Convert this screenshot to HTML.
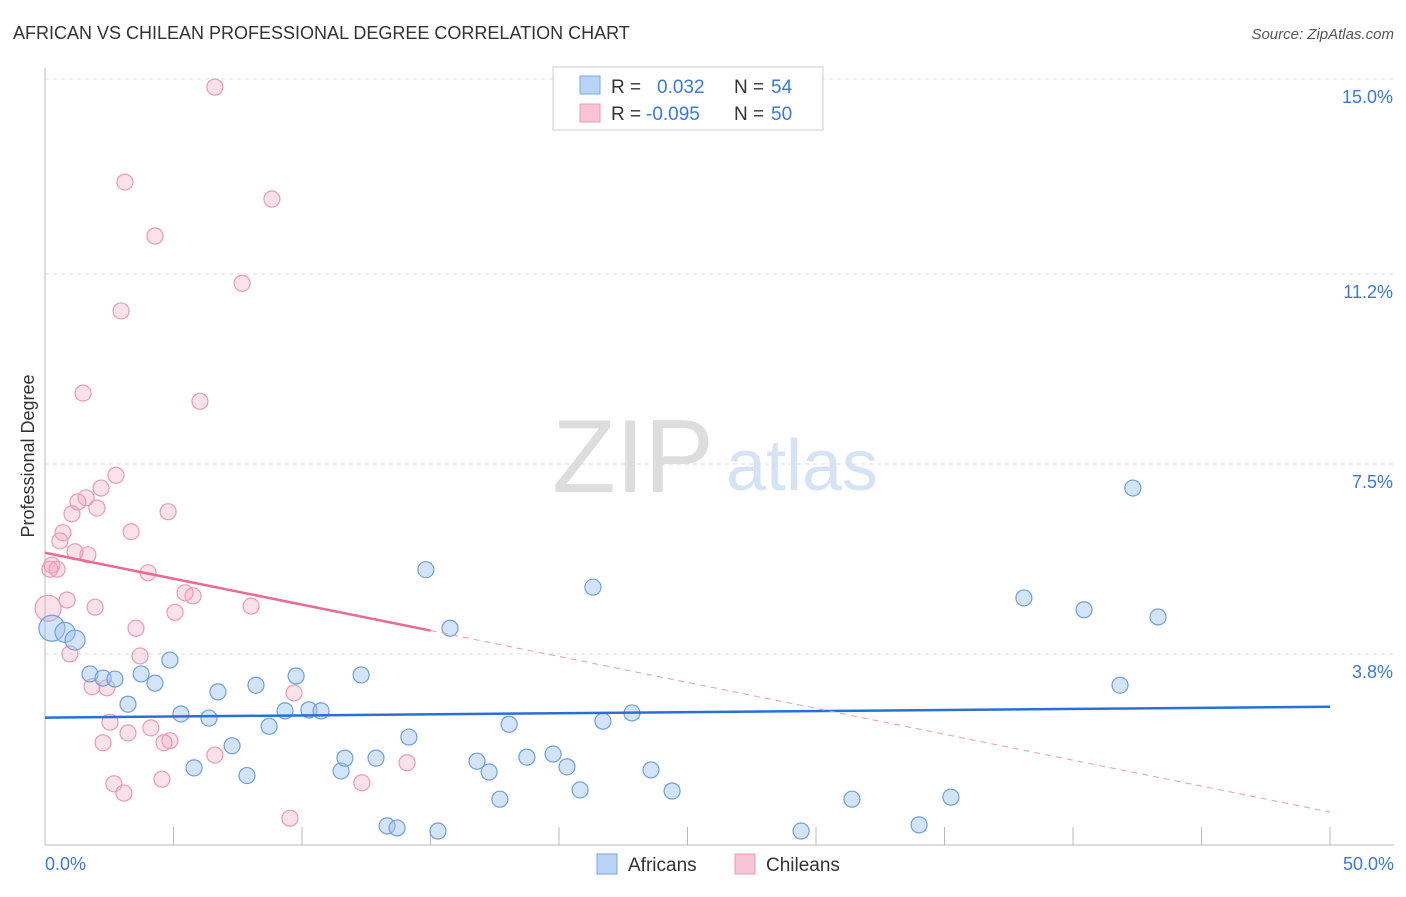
<!DOCTYPE html>
<html><head><meta charset="utf-8"><style>
body{margin:0;background:#fff;font-family:"Liberation Sans",sans-serif;}
svg text{font-family:"Liberation Sans",sans-serif;}
</style></head><body>
<svg id="chart" width="1406" height="892" xmlns="http://www.w3.org/2000/svg">
<text x="13" y="39" font-size="18" fill="#333">AFRICAN VS CHILEAN PROFESSIONAL DEGREE CORRELATION CHART</text>
<text x="1394" y="39" font-size="15" fill="#555" text-anchor="end" font-style="italic">Source: ZipAtlas.com</text>
<g>
<text x="633" y="492" font-size="104" fill="#ddd" text-anchor="middle" font-family="Liberation Serif, serif">ZIP</text>
<text x="802" y="490" font-size="72" fill="#d5e3f5" text-anchor="middle">atlas</text>
</g>
<g id="grid"></g>
<g id="axes"></g>
<g id="marks"></g>
<g id="trends"></g>
<text transform="translate(34,456) rotate(-90)" font-size="18" fill="#333" text-anchor="middle">Professional Degree</text>
<g>
<rect x="553" y="67" width="270" height="63" fill="#fff" stroke="#ccc"/>
<rect x="580" y="76" width="20" height="18" fill="#b8d3f5" stroke="#7aa8e0"/>
<text x="611" y="93" font-size="19" fill="#333">R =</text>
<text x="657" y="93" font-size="19" fill="#3d78d8">0.032</text>
<text x="734" y="93" font-size="19" fill="#333">N =</text>
<text x="771" y="93" font-size="19" fill="#3d78d8">54</text>
<rect x="580" y="104" width="20" height="18" fill="#f8c4d5" stroke="#eb9ab5"/>
<text x="611" y="120" font-size="19" fill="#333">R =</text>
<text x="646" y="120" font-size="19" fill="#3d78d8">-0.095</text>
<text x="734" y="120" font-size="19" fill="#333">N =</text>
<text x="771" y="120" font-size="19" fill="#3d78d8">50</text>
</g>
<g>
<rect x="597" y="854" width="20" height="20" fill="#b8d3f5" stroke="#7aa8e0"/>
<text x="628" y="871" font-size="19" fill="#333">Africans</text>
<rect x="735" y="854" width="20" height="20" fill="#f8c4d5" stroke="#eb9ab5"/>
<text x="766" y="871" font-size="19" fill="#333">Chileans</text>
</g>
</svg>
<script>
const yTicks=[15.0,11.2,7.5,3.8];
const yTickLabels=["15.0%","11.2%","7.5%","3.8%"];
const xTickLabels=["0.0%","50.0%"];
const africansX=[0.27,0.78,1.17,1.75,2.26,2.72,3.23,3.74,4.28,4.86,5.29,5.80,6.38,6.73,7.28,7.86,8.21,8.72,9.34,9.77,10.27,10.74,11.52,11.67,12.30,12.88,13.31,13.70,14.16,14.82,15.29,15.76,16.81,17.28,17.70,18.06,18.75,19.77,20.31,20.82,21.32,21.71,22.84,23.58,24.40,29.42,31.40,34.01,35.25,38.09,40.43,41.83,42.33,43.31];
const africansY=[4.30,4.22,4.07,3.41,3.33,3.31,2.82,3.41,3.23,3.68,2.63,1.58,2.55,3.06,2.01,1.43,3.19,2.39,2.69,3.37,2.71,2.69,1.52,1.77,3.39,1.77,0.45,0.41,2.18,5.44,0.35,4.30,1.71,1.50,0.97,2.43,1.79,1.85,1.60,1.15,5.10,2.49,2.65,1.54,1.13,0.35,0.97,0.47,1.01,4.89,4.66,3.19,7.03,4.52];
const africansR=[13,10,10,8,8,8,8,8,8,8,8,8,8,8,8,8,8,8,8,8,8,8,8,8,8,8,8,8,8,8,8,8,8,8,8,8,8,8,8,8,8,8,8,8,8,8,8,8,8,8,8,8,8,8];
const chileansX=[6.61,3.11,8.83,4.28,7.67,2.96,1.48,6.03,2.76,2.18,1.60,1.28,2.02,1.05,4.79,3.35,0.70,0.58,1.67,1.17,0.27,0.47,4.01,0.12,0.86,1.95,5.45,5.76,8.02,5.06,3.54,0.97,3.70,1.83,2.41,9.69,2.53,4.12,3.23,2.26,4.86,4.63,6.61,14.09,4.55,2.68,3.07,12.33,9.53,0.19];
const chileansY=[14.84,12.99,12.66,11.94,11.02,10.48,8.88,8.72,7.28,7.03,6.84,6.76,6.64,6.53,6.57,6.18,6.16,6.00,5.73,5.79,5.53,5.45,5.38,4.69,4.85,4.71,4.99,4.93,4.73,4.61,4.30,3.80,3.76,3.16,3.14,3.04,2.47,2.36,2.26,2.07,2.11,2.07,1.83,1.68,1.36,1.27,1.09,1.29,0.60,5.45];
const chileansR=[8,8,8,8,8,8,8,8,8,8,8,8,8,8,8,8,8,8,8,8,8,8,8,13,8,8,8,8,8,8,8,8,8,8,8,8,8,8,8,8,8,8,8,8,8,8,8,8,8,8];
const trendAfricans=[2.56,2.77];
const trendChileans=[5.77,0.72];
const chileSolidEnd=15;
const NS="http://www.w3.org/2000/svg";
const X=v=>45+v/50*1285, Y=v=>849-v*51.34;
function mk(tag,attrs,parent){const e=document.createElementNS(NS,tag);for(const k in attrs)e.setAttribute(k,attrs[k]);document.getElementById(parent).appendChild(e);return e;}
yTicks.forEach((t,i)=>{
 const g=mk('line',{x1:45,x2:1394,y1:Y(t),y2:Y(t),stroke:'#ddd','stroke-dasharray':'4,4'},'grid');
 
 
 const l=mk('text',{x:1393,y:Y(t)+24,'font-size':18,fill:'#3d78d8','text-anchor':'end'},'axes');
 l.textContent=yTickLabels[i];
 
 
});
const ya=mk('line',{x1:45,x2:45,y1:68,y2:845,stroke:'#bbb'},'axes');


const xa=mk('line',{x1:45,x2:1394,y1:845,y2:845,stroke:'#bbb'},'axes');


for(let i=0;i<=10;i++){
 const t=mk('line',{x1:X(i*5),x2:X(i*5),y1:827,y2:845,stroke:'#bbb'},'axes');
 
 
}
[[0,45,'start'],[1,1394,'end']].forEach(([i,x,a])=>{
 const l=mk('text',{x:x,y:870,'font-size':18,fill:'#3d78d8','text-anchor':a},'axes');
 l.textContent=xTickLabels[i];
 
 
});
chileansX.forEach((v,i)=>{
 const c=mk('circle',{cx:X(v),cy:Y(chileansY[i]),r:chileansR[i],fill:'rgba(244,170,195,0.35)',stroke:'#eb9ab5','stroke-width':1.2},'marks');
 
 
});
africansX.forEach((v,i)=>{
 const c=mk('circle',{cx:X(v),cy:Y(africansY[i]),r:africansR[i],fill:'rgba(160,196,240,0.45)',stroke:'#6f9fdc','stroke-width':1.2},'marks');
 
 
});
const ta=mk('line',{x1:X(0),y1:Y(trendAfricans[0]),x2:X(50),y2:Y(trendAfricans[1]),stroke:'#2a6fd6','stroke-width':2.5},'trends');


const cy=x=>trendChileans[0]+(trendChileans[1]-trendChileans[0])*x/50;
const tc=mk('line',{x1:X(0),y1:Y(cy(0)),x2:X(chileSolidEnd),y2:Y(cy(chileSolidEnd)),stroke:'#e86a95','stroke-width':2.5},'trends');


const td=mk('line',{x1:X(chileSolidEnd),y1:Y(cy(chileSolidEnd)),x2:X(50),y2:Y(cy(50)),stroke:'#eb9ab5','stroke-width':1,'stroke-dasharray':'6,5'},'trends');


</script>
</body></html>
